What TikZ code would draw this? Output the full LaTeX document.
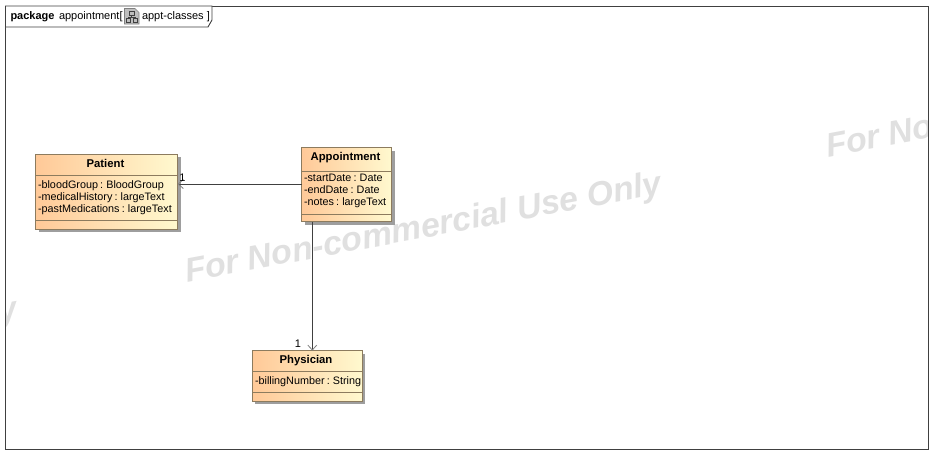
\documentclass[tikz,border=0pt]{standalone}
\usepackage{fontspec}
\setmainfont{Liberation Sans}
\newfontfamily\attrfamily[WordSpace=0.72]{Liberation Sans}
\usetikzlibrary{positioning}
\usetikzlibrary{arrows.meta}
\usetikzlibrary{shadows}

\definecolor{framecol}{HTML}{404040}
\definecolor{boxedge}{HTML}{8C7B5E}
\definecolor{boxleft}{HTML}{FFC998}
\definecolor{boxright}{HTML}{FFF9CF}
\definecolor{markcol}{HTML}{E0E0E0}
\definecolor{iconcol}{HTML}{BEBEBE}

\begin{document}
\begin{tikzpicture}[x=1pt, y=-1pt,
	nosep/.style={inner sep=0pt, outer sep=0pt},
	frameline/.style={draw=framecol, line width=0.9pt},
	classbox/.style={draw=boxedge, line width=0.9pt, left color=boxleft, right color=boxright, nosep,
		drop shadow={shadow xshift=3pt, shadow yshift=-3pt, fill=black!38, opacity=1}},
	sepline/.style={draw=boxedge, line width=0.9pt},
	title/.style={nosep, anchor=base, font=\fontsize{11.3}{12}\selectfont\bfseries},
	attr/.style={nosep, anchor=base west, font=\fontsize{10.8}{12}\selectfont\attrfamily},
	tabtext/.style={nosep, anchor=base west, font=\fontsize{11}{12}\selectfont},
	mult/.style={nosep, font=\fontsize{11}{12}\selectfont},
	assoc/.style={draw=framecol, line width=0.8pt, -{Straight Barb[length=5pt, width=9pt, color=gray]}},
	markup/.style={nosep, anchor=base west, rotate=10.5, text=markcol, font=\fontsize{33.8}{36}\selectfont\bfseries\itshape}
]
\useasboundingbox (0,0) rectangle (943,464);

% Watermark, clipped by the frame
\begin{scope}
	\clip (5.5,6) rectangle (928.5,449);
	\node[markup] (mark1) at (0,322) {y};
	\node[markup] (mark2) at (187,282) {For Non-commercial Use Only};
	\node[markup] (mark3) at (828,157) {For No};
\end{scope}

% Outer frame and tab
\draw[frameline] (5.5,6) rectangle (928.5,449);
\draw[frameline, fill=white] (5.5,6) -- (212,6) -- (212,20) -- (208,27) -- (5.5,27) -- cycle;

% Tab text
\node[tabtext, font=\fontsize{11}{12}\selectfont\bfseries] (tabkind) at (10.5,19) {package};
\node[tabtext] (tabname) at (59,19) {appointment[};
\node[tabtext] (tabdiag) at (142,19) {appt-classes ]};

% Diagram icon
\draw[draw=gray, fill=iconcol, line width=0.6pt] (124.5,8.5) -- (135,8.5) -- (139,12.5) -- (139,24) -- (124.5,24) -- cycle;
\draw[draw=framecol, line width=0.5pt] (129.5,11.5) rectangle (134,15.5);
\draw[draw=framecol, line width=0.5pt] (126.5,18.5) rectangle (130.5,22);
\draw[draw=framecol, line width=0.5pt] (133,18.5) rectangle (137,22);
\draw[draw=framecol, line width=0.5pt] (131.7,15.5) -- (131.7,17) (128.5,18.5) -- (128.5,17) -- (135,17) -- (135,18.5);

% Class boxes
\node[classbox, minimum width=142pt, minimum height=75pt] (patient) at (106.7,191.8) {};
\node[classbox, minimum width=90pt, minimum height=74pt] (appointment) at (346.7,184.6) {};
\node[classbox, minimum width=110pt, minimum height=50.5pt] (physician) at (307.3,375.9) {};

% Compartment lines
\draw[sepline] (patient.west |- 0,175) -- (patient.east |- 0,175);
\draw[sepline] (patient.west |- 0,220) -- (patient.east |- 0,220);
\draw[sepline] (appointment.west |- 0,171) -- (appointment.east |- 0,171);
\draw[sepline] (appointment.west |- 0,214) -- (appointment.east |- 0,214);
\draw[sepline] (physician.west |- 0,371.7) -- (physician.east |- 0,371.7);
\draw[sepline] (physician.west |- 0,392.3) -- (physician.east |- 0,392.3);

% Class names
\node[title] (tpatient) at (105.5,167) {Patient};
\node[title] (tappointment) at (345.5,160) {Appointment};
\node[title] (tphysician) at (306,363.5) {Physician};

% Attributes
\node[attr] (pa1) at (38,188) {-bloodGroup : BloodGroup};
\node[attr] (pa2) at (38,200) {-medicalHistory : largeText};
\node[attr] (pa3) at (38,212) {-pastMedications : largeText};
\node[attr] (aa1) at (304,181) {-startDate : Date};
\node[attr] (aa2) at (304,193) {-endDate : Date};
\node[attr] (aa3) at (304,205) {-notes : largeText};
\node[attr] (fa1) at (255,384.5) {-billingNumber : String};

% Associations
\coordinate (appfoot) at (312.3,222);
\coordinate (appside) at (301.7,184);
\draw[assoc] (appside) -- (appside -| patient.east);
\draw[assoc] (appfoot) -- (appfoot |- physician.north);

% Multiplicities
\node[mult] (m1) at (182.5,178) {1};
\node[mult] (m2) at (298,344) {1};

\end{tikzpicture}
\end{document}
